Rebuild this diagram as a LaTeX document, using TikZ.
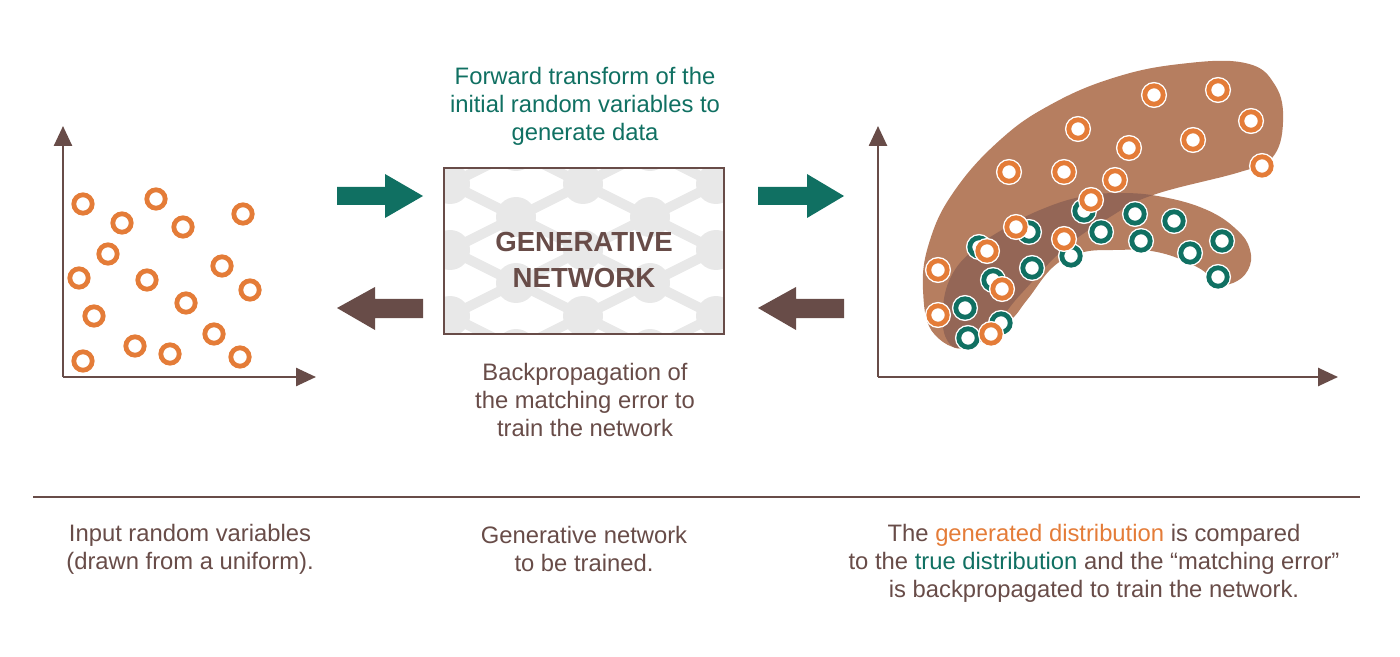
\documentclass[tikz,border=0pt]{standalone}
\usepackage{fontspec}
\setmainfont{Liberation Sans}
\usetikzlibrary{arrows.meta}

\definecolor{genteal}{RGB}{16,112,98}
\definecolor{genbrown}{RGB}{104,76,72}
\definecolor{genorange}{RGB}{228,124,56}
\definecolor{blobbrown}{RGB}{182,126,96}
\definecolor{blobdark}{RGB}{148,102,86}
\definecolor{netgray}{RGB}{232,232,232}

\tikzset{
  axis/.style={genbrown, line width=1.3pt, -{Triangle[length=10pt,width=9pt]}},
  ring/.style={circle, draw=#1, line width=2.4pt, minimum size=9.2pt, inner sep=0pt, fill=white},
  haloring/.style={ring=#1, preaction={draw=white, line width=3.8pt}},
  caption/.style={text=genbrown, align=center, font=\fontsize{11.9}{14}\selectfont},
}

\def\bigblob{plot[smooth cycle, tension=0.7] coordinates {(935,335) (923,290) (930,240) (955,190) (1000,140) (1050,105) (1113,78) (1180,64) (1245,63) (1275,85) (1283,122) (1272,158) (1240,172) (1153,195) (1110,217) (1065,248) (1020,295) (975,345)}}
\def\smallblob{plot[smooth cycle, tension=0.7] coordinates {(947,340) (967,347) (1007,323) (1027,300) (1053,267) (1080,253) (1113,250) (1157,252) (1197,267) (1217,282) (1233,283) (1248,270) (1250,250) (1237,230) (1207,210) (1163,197) (1120,193) (1080,197) (1040,210) (1007,227) (977,247) (953,273) (943,307)}}

\begin{document}
\begin{tikzpicture}[x=0.5pt, y=-0.5pt]
    \useasboundingbox (0,0) rectangle (1400,657);

    % Drawing the input axes
    \coordinate (lo) at (63,377);
    \coordinate (ly) at (63,126);
    \coordinate (lx) at (316,377);
    \draw[axis] (lo) -- (ly);
    \draw[axis] (lo) -- (lx);

    % Drawing the uniform samples
    \foreach \x/\y [count=\i] in {83/204, 156/199, 122/223, 183/227, 243/214, 108/254, 79/278, 147/280, 222/266, 250/290, 186/303, 94/316, 214/334, 135/346, 170/354, 83/361, 240/357}
        \node[ring=genorange] (in\i) at (\x,\y) {};

    % Drawing the network pattern
    \begin{scope}
        \clip (444,168) rectangle (724,334);
        \foreach \x in {450,583,716}
            \foreach \y in {184,250,316}
                \draw[netgray, line width=5pt] (\x,\y) -- ++(66,33) (\x,\y) -- ++(66,-33) (\x,\y) -- ++(-66,33) (\x,\y) -- ++(-66,-33);
        \foreach \x in {450,583,716}
            \foreach \y in {184,250,316}
                \fill[netgray] (\x,\y) circle (10pt);
        \foreach \x in {516,650}
            \foreach \y in {151,217,283,349}
                \fill[netgray] (\x,\y) circle (10pt);
    \end{scope}

    % Drawing the generative network
    \node[draw=genbrown, line width=1.2pt, minimum width=140pt, minimum height=83pt] (box) at (584,251) {};
    \node[text=genbrown, align=center, font=\bfseries\fontsize{13.8}{17.5}\selectfont] (gen) at (584,260) {GENERATIVE\\NETWORK};

    % Drawing the forward arrows
    \fill[genteal] (337,187) -- ++(48,0) -- ++(0,-13) -- ++(38,22) -- ++(-38,22) -- ++(0,-13) -- ++(-48,0) -- cycle;
    \fill[genteal] (758,187) -- ++(49,0) -- ++(0,-13) -- ++(37,22) -- ++(-37,22) -- ++(0,-13) -- ++(-49,0) -- cycle;

    % Drawing the backward arrows
    \fill[genbrown] (423,299) -- ++(-48,0) -- ++(0,-12) -- ++(-38,21) -- ++(38,22) -- ++(0,-12) -- ++(48,0) -- cycle;
    \fill[genbrown] (844,299) -- ++(-48,0) -- ++(0,-12) -- ++(-38,21) -- ++(38,22) -- ++(0,-12) -- ++(48,0) -- cycle;

    % Drawing the labels of the arrows
    \node[caption, text=genteal] (fwd) at (585,106) {Forward transform of the\\initial random variables to\\generate data};
    \node[caption] (bwd) at (585,400) {Backpropagation of\\the matching error to\\train the network};

    % Drawing the output axes
    \coordinate (ro) at (878,377);
    \coordinate (ry) at (878,126);
    \coordinate (rx) at (1338,377);
    \draw[axis] (ro) -- (ry);
    \draw[axis] (ro) -- (rx);

    % Drawing the two distributions
    \fill[blobbrown] \bigblob;
    \fill[blobbrown] \smallblob;
    \begin{scope}
        \clip \bigblob;
        \fill[blobdark] \smallblob;
    \end{scope}

    % Drawing the true samples
    \foreach \x/\y [count=\i] in {1084/211, 1135/214, 1174/221, 1029/232, 1101/232, 1141/241, 1222/241, 979/247, 1190/253, 1071/256, 1032/268, 1218/277, 993/280, 965/308, 1001/323, 968/338}
        \node[haloring=genteal] (tr\i) at (\x,\y) {};

    % Drawing the generated samples
    \foreach \x/\y [count=\i] in {1154/95, 1218/90, 1251/121, 1078/129, 1193/140, 1129/148, 1262/166, 1009/172, 1064/172, 1115/180, 1091/200, 1016/227, 1064/239, 987/251, 938/270, 1002/289, 938/315, 991/334}
        \node[haloring=genorange] (ge\i) at (\x,\y) {};

    % Drawing the separator
    \coordinate (sl) at (33,497);
    \coordinate (sr) at (1360,497);
    \draw[genbrown, line width=1.2pt] (sl) -- (sr);

    % Drawing the captions
    \node[caption] (capin) at (190,549) {Input random variables\\(drawn from a uniform).};
    \node[caption] (capnet) at (584,549) {Generative network\\to be trained.};
    \node[caption] (capout) at (1094,563) {The \textcolor{genorange}{generated distribution} is compared\\to the \textcolor{genteal}{true distribution} and the ``matching error''\\is backpropagated to train the network.};

\end{tikzpicture}
\end{document}
